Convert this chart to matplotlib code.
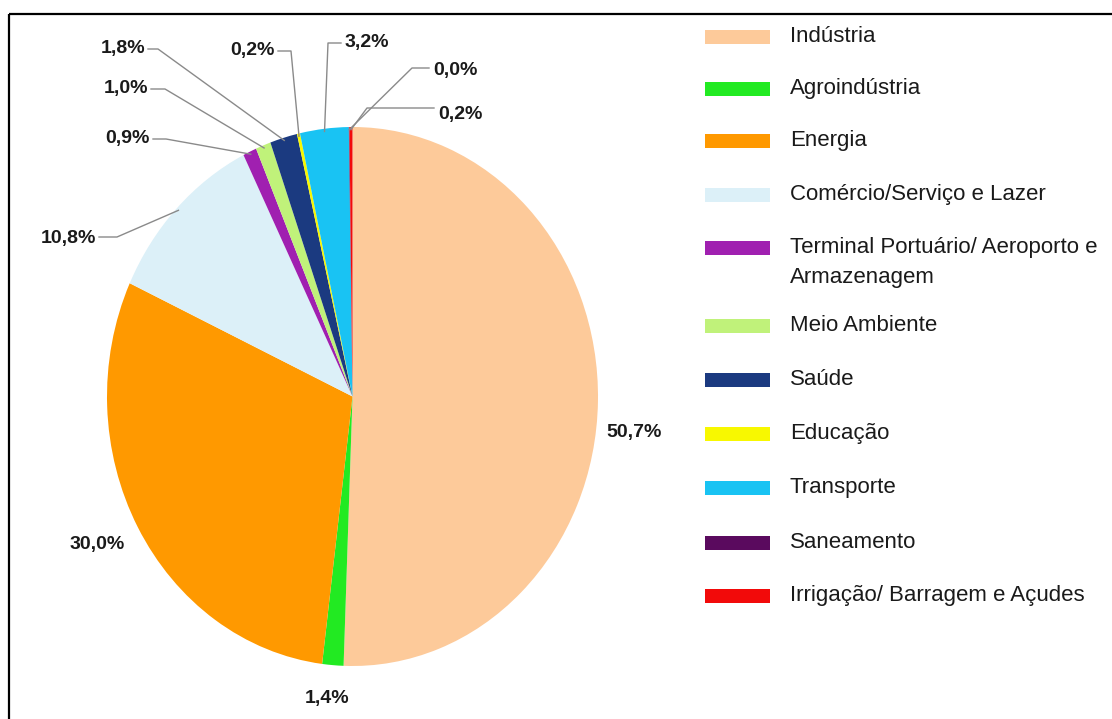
import matplotlib
matplotlib.use("Agg")
import matplotlib.pyplot as plt
from matplotlib.patches import Rectangle
import numpy as np

W, H = 1112, 719

# 数据
CATEGORIES = [
    "Indústria",
    "Agroindústria",
    "Energia",
    "Comércio/Serviço e Lazer",
    "Terminal Portuário/ Aeroporto e\nArmazenagem",
    "Meio Ambiente",
    "Saúde",
    "Educação",
    "Transporte",
    "Saneamento",
    "Irrigação/ Barragem e Açudes",
]
SHARES = [50.7, 1.4, 30.0, 10.8, 0.9, 1.0, 1.8, 0.2, 3.2, 0.04, 0.2]
COLORS = [
    "#fdca9a", "#22ea22", "#ff9900", "#dcf0f8", "#a020b0", "#c0f27a",
    "#1b3a80", "#f8f800", "#19c3f3", "#5a0a5e", "#f20a0a",
]

# 标签版式（图像像素坐标）：文字 x, y, 对齐, 折点
LABEL_POS = [
    (634, 432, "center", None),
    (327, 698, "center", None),
    (97, 545, "center", None),
    (96, 238, "right", (117, 237)),
    (150, 138, "right", (166, 139)),
    (148, 89, "right", (165, 89)),
    (145, 49, "right", (158, 49)),
    (275, 51, "right", (291, 51)),
    (345, 43, "left", (328, 43)),
    (433, 70, "left", (412, 68)),
    (438, 115, "left", (367, 108)),
]

LEG_Y = [37, 89, 141, 195, 248, 326, 380, 434, 488, 543, 596]
LINE_C = "#8a8a8a"

fig = plt.figure(figsize=(W / 100, H / 100), dpi=100)

# 饼图（椭圆）
ax = fig.add_axes([107 / W, (H - 666) / H, 491 / W, 539 / H])
wedges, _ = ax.pie(
    SHARES, colors=COLORS, startangle=90, counterclock=False,
    wedgeprops=dict(linewidth=0),
)
ax.set_aspect("auto")
ax.set_xlim(-1, 1)
ax.set_ylim(-1, 1)
ax.axis("off")

# 覆盖层，像素坐标（y 向下）
ov = fig.add_axes([0, 0, 1, 1], facecolor="none")
ov.set_xlim(0, W)
ov.set_ylim(H, 0)
ov.axis("off")

# 边框（上、左）
ov.plot([9, W], [14, 14], color="black", lw=1.6, solid_capstyle="butt")
ov.plot([9, 9], [14, H], color="black", lw=1.6, solid_capstyle="butt")

to_px = ov.transData.inverted()
for w, v, (tx, ty, ha, elbow) in zip(wedges, SHARES, LABEL_POS):
    txt = f"{v:.1f}%".replace(".", ",")
    ov.text(tx, ty, txt, ha=ha, va="center", fontsize=14, fontweight="bold",
            family="Liberation Sans", color="#1a1a1a")
    if elbow is None:
        continue
    mid = np.deg2rad((w.theta1 + w.theta2) / 2)
    ax_pt = ax.transData.transform((0.99 * np.cos(mid), 0.99 * np.sin(mid)))
    axx, axy = to_px.transform(ax_pt)
    sx = tx + 3 if ha == "right" else tx - 4
    ov.plot([sx, elbow[0], axx], [elbow[1], elbow[1], axy],
            color=LINE_C, lw=1.0)

# 图例
for name, col, y in zip(CATEGORIES, COLORS, LEG_Y):
    ov.add_patch(Rectangle((705, y - 7), 65, 14, facecolor=col, edgecolor="none"))
    ov.text(790, y - 11, name, ha="left", va="top", fontsize=16,
            family="Liberation Sans", color="#1a1a1a", linespacing=1.55)

fig.savefig("out.png", dpi=100)
